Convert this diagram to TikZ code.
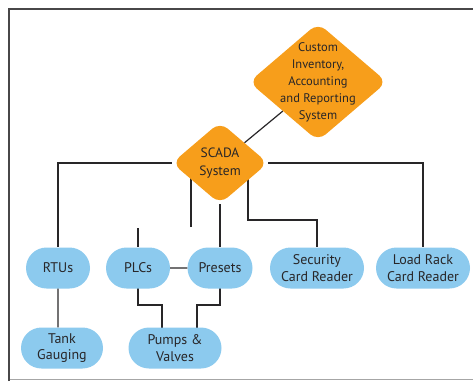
\documentclass[tikz,border=0pt]{standalone}
\usepackage{fontspec}
\setmainfont{PT Sans}
\usepackage{tikz}
\usetikzlibrary{positioning, backgrounds, shapes.geometric, shapes.misc}
\definecolor{scadaorange}{RGB}{247,158,27}
\definecolor{devblue}{RGB}{140,202,238}
\definecolor{inkgray}{RGB}{40,38,40}

\begin{document}
\begin{tikzpicture}[x=1pt, y=-1pt,
    sys/.style={diamond, fill=scadaorange, rounded corners=10pt, inner sep=0pt},
    dev/.style={rounded rectangle, fill=devblue, minimum height=41pt, inner sep=1pt,
      align=center, font=\fontsize{14}{16.5}\selectfont, text=inkgray},
    wire/.style={draw=inkgray, line width=1.2pt},
    node distance=20pt, on grid]
  \useasboundingbox (0,0) rectangle (473,381);
  % frame
  \draw[gray!70, line width=1pt] (9,379) -- (473,379);
  \draw[inkgray!85, line width=2pt] (9,381) -- (9,9) -- (473,9);

  % systems
  \node[sys, minimum width=96pt, minimum height=82pt,
    label={[align=center, font=\fontsize{13.5}{17.5}\selectfont, text=inkgray]center:SCADA\\System}]
    at (220,163) (scada) {};
  \node[sys, minimum width=138pt, minimum height=118pt, above right=81pt and 98pt of scada,
    label={[align=center, font=\fontsize{12.5}{17}\selectfont, text=inkgray]center:Custom\\Inventory,\\Accounting\\and Reporting\\System}]
    (cust) {};

  % devices
  \node[dev, minimum width=67pt, below=105pt of scada] (pre) {Presets};
  \node[dev, minimum width=66pt, left=82pt of pre] (plc) {PLCs};
  \node[dev, minimum width=66pt, left=80pt of plc] (rtu) {RTUs};
  \node[dev, minimum width=96pt, right=97pt of pre] (sec) {Security\\Card Reader};
  \node[dev, minimum width=96pt, right=106pt of sec] (rack) {Load Rack\\Card Reader};
  \node[dev, minimum width=84pt, below right=80pt and 4pt of rtu] (tank) {Tank\\Gauging};
  \node[dev, minimum width=95pt, below left=80pt and 45pt of pre] (pump) {Pumps \&\\Valves};

  % loose ends
  \coordinate[below left=64pt and 29pt of scada] (scadaend);
  \coordinate[above=40pt of plc] (plcend);

  \draw[wire] (cust) -- (scada);
  \draw[wire] (scada) -| (rtu);
  \draw[wire] (scada) -| (rack);
  \draw[wire] (scada) -- (pre);
  \draw[wire] (plc) -- (pre);
  \draw[wire] (rtu) -- (tank.north -| rtu);
  \draw[wire] (plcend) -- (plc);
  \begin{scope}[on background layer]
    \draw[wire] (scadaend) -- ([xshift=-29pt]scada.center);
    \draw[wire] ([xshift=28pt]scada.center) |- ([yshift=-57pt]scada.center -| sec.north) -- (sec);
    \draw[wire] (plc.center) |- ([yshift=-37pt]plc.center) -| ([xshift=-13pt]pump.center);
    \draw[wire] (pre.center) |- ([yshift=-37pt]pre.center) -| ([xshift=22pt]pump.center);
  \end{scope}
\end{tikzpicture}
\end{document}
